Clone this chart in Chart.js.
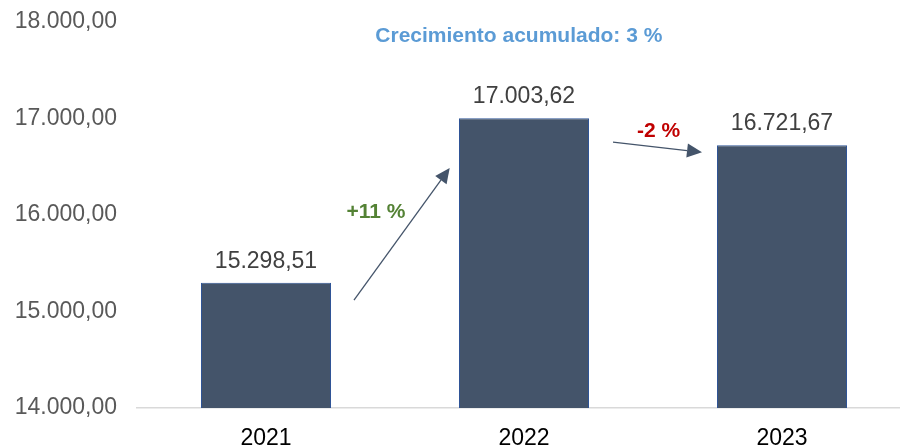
<!DOCTYPE html>
<html>
<head>
<meta charset="utf-8">
<script src="https://cdn.jsdelivr.net/npm/chart.js@4.4.1/dist/chart.umd.min.js"></script>
<style>
  html, body { margin: 0; padding: 0; background: #ffffff; overflow: hidden; width: 900px; height: 447px; }
  #wrap { width: 911px; height: 447px; position: relative; }
</style>
</head>
<body>
<div id="wrap"><canvas id="c"></canvas></div>
<script>
// ---- data ----
const years = ['2021', '2022', '2023'];
const values = [15298.51, 17003.62, 16721.67];
const yTicks = [14000, 15000, 16000, 17000, 18000];
const title = 'Crecimiento acumulado: 3 %';
const changeTexts = ['+11 %', '-2 %'];

// ---- annotation placement (category index / value space) ----
const changeColors = ['#548235', '#C00000'];
const changeLabelPos = [[0.426, 16031], [1.522, 16870]];
const arrowPos = [
  [[0.341, 15119], [0.712, 16487]],
  [[1.345, 16756], [1.690, 16650]]
];
const titlePos = [0.98, 17793];

const FONT = "'Liberation Sans', Arial, sans-serif";
const fmt = v => v.toLocaleString('de-DE', { minimumFractionDigits: 2, maximumFractionDigits: 2 });

const annotationPlugin = {
  id: 'annot',
  afterDatasetsDraw(chart) {
    const ctx = chart.ctx;
    const xs = chart.scales.x, ys = chart.scales.y;
    ctx.save();
    const meta = chart.getDatasetMeta(0);
    ctx.font = '23px ' + FONT;
    ctx.fillStyle = '#404040';
    ctx.textAlign = 'center';
    ctx.textBaseline = 'alphabetic';
    meta.data.forEach((bar, i) => {
      ctx.fillText(fmt(values[i]), bar.x, bar.y - 15);
    });
    ctx.font = 'bold 21px ' + FONT;
    ctx.fillStyle = '#5B9BD5';
    ctx.fillText(title, xs.getPixelForValue(titlePos[0]), ys.getPixelForValue(titlePos[1]));
    ctx.textBaseline = 'middle';
    changeTexts.forEach((t, i) => {
      ctx.fillStyle = changeColors[i];
      ctx.fillText(t, xs.getPixelForValue(changeLabelPos[i][0]), ys.getPixelForValue(changeLabelPos[i][1]));
    });
    ctx.strokeStyle = '#44546A';
    ctx.fillStyle = '#44546A';
    ctx.lineWidth = 1.3;
    arrowPos.forEach(a => {
      const x1 = xs.getPixelForValue(a[0][0]), y1 = ys.getPixelForValue(a[0][1]);
      const x2 = xs.getPixelForValue(a[1][0]), y2 = ys.getPixelForValue(a[1][1]);
      const ang = Math.atan2(y2 - y1, x2 - x1);
      const hl = 15, hw = 7;
      const bx = x2 - hl * Math.cos(ang), by = y2 - hl * Math.sin(ang);
      ctx.beginPath();
      ctx.moveTo(x1, y1);
      ctx.lineTo(bx, by);
      ctx.stroke();
      ctx.beginPath();
      ctx.moveTo(x2, y2);
      ctx.lineTo(bx + hw * Math.sin(ang), by - hw * Math.cos(ang));
      ctx.lineTo(bx - hw * Math.sin(ang), by + hw * Math.cos(ang));
      ctx.closePath();
      ctx.fill();
    });
    ctx.restore();
  }
};

new Chart(document.getElementById('c'), {
  type: 'bar',
  data: {
    labels: years,
    datasets: [{
      data: values,
      backgroundColor: '#44546A',
      borderColor: '#2F5597',
      borderWidth: 1,
      categoryPercentage: 1,
      barPercentage: 0.504
    }]
  },
  options: {
    responsive: true,
    maintainAspectRatio: false,
    animation: false,
    layout: { padding: { top: 22, left: 14, right: 0, bottom: 0 } },
    plugins: { legend: { display: false }, tooltip: { enabled: false } },
    scales: {
      x: {
        grid: { display: false, drawTicks: false },
        border: { display: true, color: '#D9D9D9', width: 1.5 },
        ticks: { color: '#000000', font: { family: FONT, size: 23, lineHeight: 1 }, padding: 19 },
        afterFit: s => { s.height = 39; s.paddingLeft = 0; s.paddingRight = 0; }
      },
      y: {
        min: yTicks[0],
        max: yTicks[yTicks.length - 1],
        afterBuildTicks: s => { s.ticks = yTicks.map(v => ({ value: v })); },
        afterFit: s => { s.width = 123; s.paddingTop = 0; s.paddingBottom = 0; },
        grid: { display: false, drawTicks: false },
        border: { display: false },
        ticks: {
          color: '#595959',
          font: { family: FONT, size: 23, lineHeight: 1 },
          padding: 20,
          callback: v => fmt(v)
        }
      }
    }
  },
  plugins: [annotationPlugin]
});
</script>
</body>
</html>
